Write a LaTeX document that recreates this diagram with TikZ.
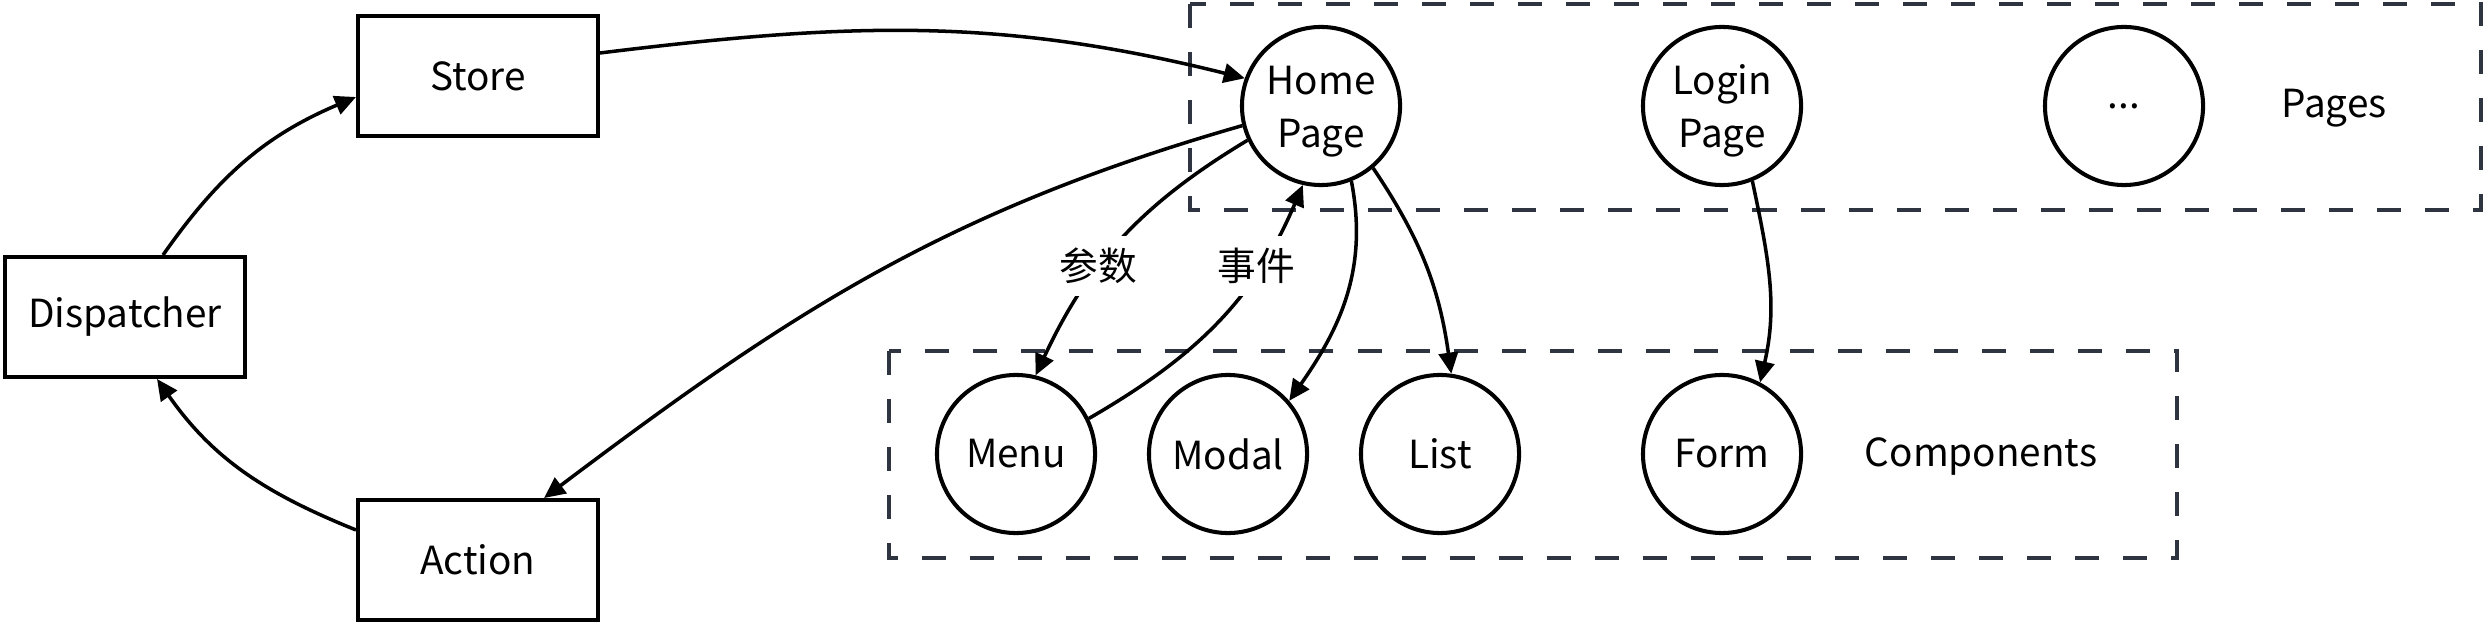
\documentclass[tikz,border=0pt]{standalone}
\usepackage{fontspec}
\setmainfont{Noto Sans CJK SC}
\usetikzlibrary{arrows.meta}
\definecolor{grpline}{HTML}{2E3440}
\begin{document}
\begin{tikzpicture}[x=0.01cm, y=0.01cm, >={Triangle[length=6pt,width=5.5pt]}, line width=1pt,
    txt/.style={font=\fontsize{11}{15}\selectfont},
    box/.style={txt, draw, line width=1.1pt, minimum width=2.4cm, minimum height=1.2cm},
    pg/.style={txt, draw, circle, line width=1.15pt, minimum size=1.58cm, inner sep=0pt, align=center},
    grp/.style={draw=grpline, dash pattern=on 0.24cm off 0.24cm, line width=1.15pt},
    lbl/.style={txt, fill=white, inner sep=0.12cm}]
        \useasboundingbox (0,0) rectangle (2486,624);
        % dashed groups
        \draw [grp] (1190,620) rectangle (2481,414);
        \draw [grp] (889,273) rectangle (2177,66);
        % store, dispatcher, action
        \node [box] (store) at (478,548) {Store};
        \node [box] (dispatcher) at (125,307) {Dispatcher};
        \node [box] (action) at (478,64) {Action};
        % pages
        \node [pg] (home) at (1321,518) {\rule{0pt}{0.4cm}Home\\Page};
        \node [pg] (login) at (1722,518) {\rule{0pt}{0.4cm}Login\\Page};
        \node [pg] (more) at (2124,518) {...};
        \node [txt] (pages) at (2334,516) {Pages};
        % components
        \node [pg] (menu) at (1016,170) {Menu};
        \node [pg] (modal) at (1228,170) {Modal};
        \node [pg] (list) at (1440,170) {List};
        \node [pg] (form) at (1722,170) {Form};
        \node [txt] (components) at (1981,168) {Components};
        % flow
        \draw [->] ([xshift=0.38cm]dispatcher.north) to [out=55, in=203] ([yshift=-0.21cm]store.west);
        \draw [->] ([yshift=0.3cm]action.west) to [out=158, in=305] ([xshift=0.32cm]dispatcher.south);
        \draw [->] ([yshift=0.23cm]store.east) to [out=7, in=166] (home.160);
        \draw [->] (home.194) to [out=196, in=37] ([xshift=0.66cm]action.north);
        \draw [->] (home.205) to [out=211, in=65] (menu.76);
        \draw [->] (menu.26) to [out=30, in=247] (home.257);
        \draw [->] (home.292) to [out=-79, in=55] (modal.41);
        \draw [->] (home.310) to [out=-56, in=98] (list.82);
        \draw [->] (login.292) to [out=-78, in=77] (form.62);
        \node [lbl] (args) at (1098,358) {参数};
        \node [lbl] (events) at (1256,358) {事件};
\end{tikzpicture}
\end{document}
